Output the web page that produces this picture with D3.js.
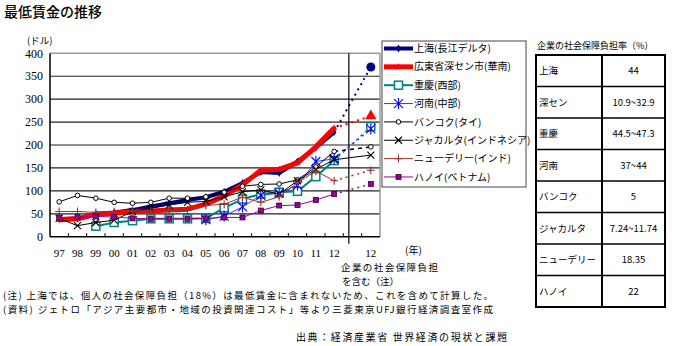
<!DOCTYPE html>
<html><head><meta charset="utf-8">
<script src="https://cdn.jsdelivr.net/npm/d3@7"></script>
<style>body{margin:0;background:#fff}svg{display:block}text{font-family:"Noto Sans CJK JP",sans-serif;fill:#000}</style>
</head><body><svg id="c" width="690" height="346"></svg>
<script>
// ---- data ----
const years = ["97","98","99","00","01","02","03","04","05","06","07","08","09","10","11","12"];
const projLabel = "12";
const yTicks = [0,50,100,150,200,250,300,350,400];
const seriesNames = ["上海(長江デルタ)","広東省深セン市(華南)","重慶(西部)","河南(中部)","バンコク(タイ)","ジャカルタ(インドネシア)","ニューデリー(インド)","ハノイ(ベトナム)"];
const shanghai  = [38,39,50,53,58,66,73,80,86,98,117,141,139,164,194,228];
const shenzhen  = [37,39,49,51,55,56,58,60,71,89,113,145,147,161,196,237];
const chongqing = [null,null,23,31,35,39,39,39,40,63,82,93,97,99,131,166];
const henan     = [null,null,null,null,null,null,null,null,37,45,65,90,95,112,164,170];
const bangkok   = [76,90,84,75,73,75,84,84,87,97,110,114,115,124,152,186];
const jakarta   = [40,24,31,36,55,62,69,75,77,87,98,102,93,122,147,168];
const newdelhi  = [55,55,53,55,56,56,57,57,68,71,86,75,87,118,143,122];
const hanoi     = [42,43,44,43,40,39,39,39,40,42,42,57,68,69,80,93];
const projected = [370,263,240,235,196,178,145,115];
const tableTitle = "企業の社会保障負担率（%）";
const tableRegions = ["上海","深セン","重慶","河南","バンコク","ジャカルタ","ニューデリー","ハノイ"];
const tableRates = ["44","10.9~32.9","44.5~47.3","37~44","5","7.24~11.74","18.35","22"];
const chartTitle = "最低賃金の推移";
const noteLines = ["(注) 上海では、個人の社会保障負担（18%）は最低賃金に含まれないため、これを含めて計算した。",
                   "(資料) ジェトロ「アジア主要都市・地域の投資関連コスト」等より三菱東京UFJ銀行経済調査室作成"];
const sourceText = "出典：経済産業省 世界経済の現状と課題";
const projNote = ["企業の社会保障負担","を含む（注）"];

// ---- drawing ----
const svg = d3.select("#c");
const keys = years.map((d,i)=>i).concat([16,17]);
const x = d3.scaleBand().domain(keys).range([50,380]).padding(0);
const bw = x.bandwidth();
const cx = i => x(i) + bw/2;
const y = d3.scaleLinear().domain([0,400]).range([236.7,53.3]);
const serif = '"Liberation Serif","DejaVu Serif",serif';

// title
svg.append("text").attr("x",4).attr("y",17).attr("font-size",14).attr("font-weight",500).text(chartTitle);

// grid
yTicks.filter(t=>t>0).forEach(t=>{
  svg.append("line").attr("x1",50).attr("x2",380).attr("y1",y(t)).attr("y2",y(t))
    .attr("stroke", t===400?"#999":"#222").attr("stroke-width", t===400?1.5:1.2);
});
svg.append("line").attr("x1",380).attr("x2",380).attr("y1",y(400)).attr("y2",y(0)).attr("stroke","#999").attr("stroke-width",1.5);
svg.append("line").attr("x1",50).attr("x2",50).attr("y1",y(400)).attr("y2",y(0)).attr("stroke","#000").attr("stroke-width",1.5);
svg.append("line").attr("x1",50).attr("x2",380).attr("y1",y(0)).attr("y2",y(0)).attr("stroke","#000").attr("stroke-width",1.5);
keys.slice(1).forEach(k=>{
  svg.append("line").attr("x1",x(k)).attr("x2",x(k)).attr("y1",y(0)).attr("y2",y(0)-3.5).attr("stroke","#000");
});
// separator
const sepX = x(16) + bw*0.3;
svg.append("line").attr("x1",sepX).attr("x2",sepX).attr("y1",y(400)).attr("y2",y(0)+7).attr("stroke","#000").attr("stroke-width",1.2);

// y labels
yTicks.forEach(t=>{
  svg.append("text").attr("x",43).attr("y",y(t)).attr("dy","0.35em").attr("text-anchor","end")
    .attr("font-size",12).style("font-family",serif).text(t);
});
svg.append("text").attr("x",27).attr("y",44).attr("font-size",9.5).text("(ドル)");
// x labels
keys.forEach(k=>{
  const lab = k<16 ? years[k] : (k===17 ? projLabel : "");
  svg.append("text").attr("x",cx(k)).attr("y",257).attr("text-anchor","middle")
    .attr("font-size",11).style("font-family",serif).text(lab);
});
svg.append("text").attr("x",405).attr("y",254).attr("font-size",10).text("(年)");
svg.append("text").attr("x",341).attr("y",271).attr("font-size",9.5).attr("textLength",97).text(projNote[0]);
svg.append("text").attr("x",342).attr("y",284.5).attr("font-size",9.5).text(projNote[1]);
noteLines.forEach((t,i)=>{
  svg.append("text").attr("x",3).attr("y",298.5+i*14).attr("font-size",9.5).attr("textLength",490).text(t);
});
svg.append("text").attr("x",296).attr("y",341).attr("font-size",10).attr("letter-spacing",1.6).text(sourceText);

// marker functions
function marker(g, type, px, py, big){
  switch(type){
    case "diamond": g.append("path").attr("d",d3.symbol(d3.symbolDiamond, big?60:18)()).attr("transform",`translate(${px},${py})`).attr("fill","#000080"); break;
    case "circleBig": g.append("circle").attr("cx",px).attr("cy",py).attr("r",4.5).attr("fill","#000080"); break;
    case "triangle": g.append("path").attr("d",d3.symbol(d3.symbolTriangle, big?55:16)()).attr("transform",`translate(${px},${py})`).attr("fill","#ff0000"); break;
    case "square": g.append("rect").attr("x",px-4).attr("y",py-4).attr("width",8).attr("height",8).attr("fill","#fff").attr("stroke","#008080").attr("stroke-width",1.5); break;
    case "star": { const r=4.5; g.append("path").attr("d",`M${px-r},${py-r}L${px+r},${py+r}M${px-r},${py+r}L${px+r},${py-r}M${px},${py-r-1}L${px},${py+r+1}`).attr("stroke","#0000ff").attr("stroke-width",1.1).attr("fill","none"); break; }
    case "circle": g.append("circle").attr("cx",px).attr("cy",py).attr("r",2.3).attr("fill","#fff").attr("stroke","#000").attr("stroke-width",1); break;
    case "x": { const r=3.5; g.append("path").attr("d",`M${px-r},${py-r}L${px+r},${py+r}M${px-r},${py+r}L${px+r},${py-r}`).attr("stroke","#000").attr("stroke-width",1.1); break; }
    case "plus": { const r=4; g.append("path").attr("d",`M${px-r},${py}L${px+r},${py}M${px},${py-r}L${px},${py+r}`).attr("stroke","#993333").attr("stroke-width",1.1); break; }
    case "msq": g.append("rect").attr("x",px-2.5).attr("y",py-2.5).attr("width",5).attr("height",5).attr("fill","#990099").attr("stroke","#330033").attr("stroke-width",0.8); break;
  }
}

const dataList = [shanghai, shenzhen, chongqing, henan, bangkok, jakarta, newdelhi, hanoi];
const styles = [
  {c:"#000080", w:4,   m:"diamond",  pm:"circleBig", dash:"2,4", dw:2},
  {c:"#ff0000", w:5,   m:"triangle", pm:"triangle",  dash:"2,4", dw:2},
  {c:"#008080", w:2,   m:"square",   pm:"square",    dash:"2,4", dw:1.5},
  {c:"#3333ff", w:1,   m:"star",     pm:"star",      dash:"2,4", dw:1.5},
  {c:"#000000", w:1,   m:"circle",   pm:"circle",    dash:"4,4", dw:1.5},
  {c:"#000000", w:1,   m:"x",        pm:"x",         dash:null,  dw:1},
  {c:"#993333", w:1,   m:"plus",     pm:"plus",      dash:"2,4", dw:1.5},
  {c:"#990099", w:1,   m:"msq",      pm:"msq",       dash:"2,4", dw:1.5}
];
const line = d3.line().defined(d=>d.v!=null).x(d=>cx(d.i)).y(d=>y(d.v));
dataList.forEach((series,si)=>{
  const st = styles[si];
  const pts = series.map((v,i)=>({i,v}));
  const g = svg.append("g");
  g.append("path").datum(pts).attr("d",line).attr("fill","none").attr("stroke",st.c).attr("stroke-width",st.w).attr("stroke-linejoin","round");
  const last = pts[pts.length-1];
  const pl = g.append("line").attr("x1",cx(last.i)).attr("y1",y(last.v)).attr("x2",cx(17)).attr("y2",y(projected[si]))
    .attr("stroke",st.c).attr("stroke-width",st.dw);
  if(st.dash) pl.attr("stroke-dasharray",st.dash);
  pts.filter(d=>d.v!=null).forEach(d=>marker(g, st.m, cx(d.i), y(d.v), false));
  marker(g, st.pm, cx(17), y(projected[si]), true);
});

// legend
const lg = svg.append("g");
lg.append("rect").attr("x",382).attr("y",41).attr("width",144).attr("height",146).attr("fill","#fff").attr("stroke","#444").attr("stroke-width",1);
seriesNames.forEach((n,i)=>{
  const st = styles[i];
  const ly = 48.5 + i*18.35;
  lg.append("line").attr("x1",384).attr("x2",413).attr("y1",ly).attr("y2",ly).attr("stroke",st.c).attr("stroke-width",st.w);
  marker(lg, st.m, 398.5, ly, false);
  lg.append("text").attr("x",414).attr("y",ly).attr("dy","0.36em").attr("font-size",10).text(n);
});

// table
const tx0=536, tx1=602, tx2=665, ty0=55, rh=31.5;
svg.append("text").attr("x",537).attr("y",49).attr("font-size",9).text(tableTitle);
const tg = svg.append("g");
tableRegions.forEach((r,i)=>{
  const yy = ty0 + i*rh;
  tg.append("text").attr("x",tx0+3).attr("y",yy+rh/2).attr("dy","0.36em").attr("font-size",9.5).text(r);
  tg.append("text").attr("x",(tx1+tx2)/2).attr("y",yy+rh/2).attr("dy","0.36em").attr("text-anchor","middle").attr("font-size",9.5).text(tableRates[i]);
  if(i>0) tg.append("line").attr("x1",tx0).attr("x2",tx2).attr("y1",yy).attr("y2",yy).attr("stroke","#000").attr("stroke-width",1.5);
});
tg.append("rect").attr("x",tx0).attr("y",ty0).attr("width",tx2-tx0).attr("height",rh*tableRegions.length).attr("fill","none").attr("stroke","#000").attr("stroke-width",2);
tg.append("line").attr("x1",tx1).attr("x2",tx1).attr("y1",ty0).attr("y2",ty0+rh*tableRegions.length).attr("stroke","#000").attr("stroke-width",2);
</script></body></html>
